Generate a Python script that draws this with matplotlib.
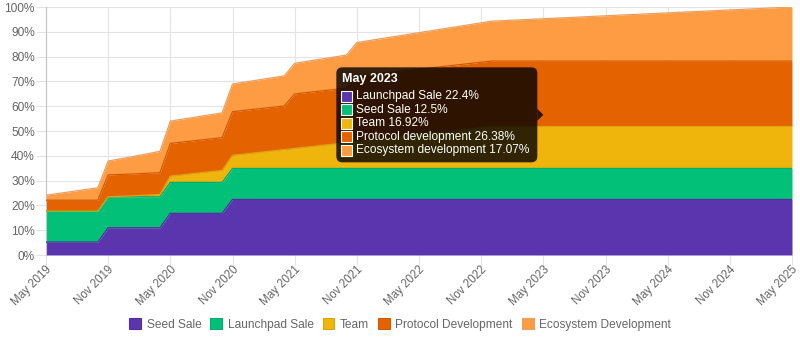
import numpy as np
import matplotlib
matplotlib.use("Agg")
import matplotlib.pyplot as plt
from matplotlib.patches import FancyBboxPatch, Polygon, Rectangle, Patch
from matplotlib.transforms import IdentityTransform, ScaledTranslation

plt.rcParams['font.family'] = ['Liberation Sans', 'DejaVu Sans']

# x-axis labels, one every six months
tick_labels = ["May 2019", "Nov 2019", "May 2020", "Nov 2020", "May 2021", "Nov 2021",
               "May 2022", "Nov 2022", "May 2023", "Nov 2023", "May 2024", "Nov 2024",
               "May 2025"]

series_names = ["Seed Sale", "Launchpad Sale", "Team", "Protocol Development",
                "Ecosystem Development"]
tooltip_names = ["Launchpad Sale", "Seed Sale", "Team", "Protocol development",
                 "Ecosystem development"]
tooltip_month = "May 2023"

colors = ["#5b35ae", "#02c077", "#f0b50c", "#e46200", "#fd9c42"]
edge_colors = ["#5230a0", "#04ad6c", "#dca50c", "#d05a02", "#e8a064"]

# Monthly unlocked share (%), May 2019 .. May 2025
seed_sale = [
    5.2, 5.2, 5.2, 5.2, 5.2, 5.2, 11.0, 11.0, 11.0, 11.0, 11.0, 11.0,
    16.8, 16.8, 16.8, 16.8, 16.8, 16.8, 22.4, 22.4, 22.4, 22.4, 22.4, 22.4,
    22.4, 22.4, 22.4, 22.4, 22.4, 22.4, 22.4, 22.4, 22.4, 22.4, 22.4, 22.4,
    22.4, 22.4, 22.4, 22.4, 22.4, 22.4, 22.4, 22.4, 22.4, 22.4, 22.4, 22.4,
    22.4, 22.4, 22.4, 22.4, 22.4, 22.4, 22.4, 22.4, 22.4, 22.4, 22.4, 22.4,
    22.4, 22.4, 22.4, 22.4, 22.4, 22.4, 22.4, 22.4, 22.4, 22.4, 22.4, 22.4,
    22.4]
launchpad_sale = [
    12.5, 12.5, 12.5, 12.5, 12.5, 12.5, 12.5, 12.5, 12.5, 12.5, 12.5, 12.5,
    12.5, 12.5, 12.5, 12.5, 12.5, 12.5, 12.5, 12.5, 12.5, 12.5, 12.5, 12.5,
    12.5, 12.5, 12.5, 12.5, 12.5, 12.5, 12.5, 12.5, 12.5, 12.5, 12.5, 12.5,
    12.5, 12.5, 12.5, 12.5, 12.5, 12.5, 12.5, 12.5, 12.5, 12.5, 12.5, 12.5,
    12.5, 12.5, 12.5, 12.5, 12.5, 12.5, 12.5, 12.5, 12.5, 12.5, 12.5, 12.5,
    12.5, 12.5, 12.5, 12.5, 12.5, 12.5, 12.5, 12.5, 12.5, 12.5, 12.5, 12.5,
    12.5]
team = [
    0.0, 0.0, 0.0, 0.0, 0.0, 0.0, 0.0, 0.15, 0.3, 0.5, 0.7, 0.9,
    2.50, 2.97, 3.43, 3.90, 4.36, 4.83, 5.29, 5.76, 6.22, 6.69, 7.15, 7.62,
    8.08, 8.55, 9.01, 9.48, 9.94, 10.41, 10.87, 11.34, 11.80, 12.27, 12.73, 13.20,
    13.66, 14.13, 14.59, 15.06, 15.52, 15.99, 16.45, 16.92, 16.92, 16.92, 16.92, 16.92,
    16.92, 16.92, 16.92, 16.92, 16.92, 16.92, 16.92, 16.92, 16.92, 16.92, 16.92, 16.92,
    16.92, 16.92, 16.92, 16.92, 16.92, 16.92, 16.92, 16.92, 16.92, 16.92, 16.92, 16.92,
    16.92]
protocol_dev = [
    4.4, 4.4, 4.4, 4.4, 4.4, 4.4, 8.8, 8.8, 8.8, 8.8, 8.8, 8.8,
    13.19, 13.19, 13.19, 13.19, 13.19, 13.19, 17.59, 17.59, 17.59, 17.59, 17.59, 17.59,
    21.98, 21.98, 21.98, 21.98, 21.98, 21.98, 26.38, 26.38, 26.38, 26.38, 26.38, 26.38,
    26.38, 26.38, 26.38, 26.38, 26.38, 26.38, 26.38, 26.38, 26.38, 26.38, 26.38, 26.38,
    26.38, 26.38, 26.38, 26.38, 26.38, 26.38, 26.38, 26.38, 26.38, 26.38, 26.38, 26.38,
    26.38, 26.38, 26.38, 26.38, 26.38, 26.38, 26.38, 26.38, 26.38, 26.38, 26.38, 26.38,
    26.38]
ecosystem_dev = [
    2.0, 2.6, 3.2, 3.8, 4.4, 5.0, 5.6, 6.2, 6.8, 7.4, 8.0, 8.6,
    9.0, 9.2, 9.4, 9.6, 9.8, 10.0, 11.16, 11.36, 11.55, 11.75, 11.95, 12.15,
    12.34, 12.54, 12.74, 12.93, 13.13, 13.33, 13.52, 13.72, 13.92, 14.12, 14.31, 14.51,
    14.71, 14.90, 15.10, 15.30, 15.49, 15.69, 15.89, 16.09, 16.28, 16.48, 16.68, 16.87,
    17.07, 17.27, 17.46, 17.66, 17.86, 18.06, 18.25, 18.45, 18.65, 18.84, 19.04, 19.24,
    19.43, 19.63, 19.83, 20.03, 20.22, 20.42, 20.62, 20.81, 21.01, 21.21, 21.40, 21.60,
    21.80]

layers = np.array([seed_sale, launchpad_sale, team, protocol_dev, ecosystem_dev])
n = layers.shape[1]
x = np.arange(n)
tops = np.cumsum(layers, axis=0)

W, H = 800, 341
fig = plt.figure(figsize=(W / 100, H / 100), dpi=100)
ax = fig.add_axes([46 / W, 1 - 255 / H, 746 / W, 248 / H])
ax.set_xlim(0, n - 1)
ax.set_ylim(0, 100)

bottom = np.zeros(n)
for i in range(len(layers)):
    ax.fill_between(x, bottom, tops[i], color=colors[i], lw=0, zorder=2)
    ax.plot(x, tops[i], color=edge_colors[i], lw=0.9, zorder=3, solid_joinstyle='round')
    bottom = tops[i]

# grid and axes styling
grid_c = "#e4e4e4"
ax.set_axisbelow(True)
ax.grid(True, color=grid_c, lw=0.8, zorder=0)
for s in ["top", "right", "bottom"]:
    ax.spines[s].set_visible(False)
ax.spines["left"].set_color("#c4c4c4")
ax.spines["left"].set_linewidth(0.8)

ax.set_xticks(np.arange(0, n, 6))
ax.set_xticklabels(tick_labels)
ax.set_yticks(np.arange(0, 101, 10))
ax.set_yticklabels([f"{v}%" for v in range(0, 101, 10)])
ax.tick_params(axis="both", length=7, width=0.8, color=grid_c,
               labelcolor="#666666", labelsize=8.6)
ax.tick_params(axis="y", pad=1.0)
ax.tick_params(axis="x", pad=2.5, labelsize=8.3)
shift = ScaledTranslation(4 / 100, 0, fig.dpi_scale_trans)
for lbl in ax.get_xticklabels():
    lbl.set_rotation(45)
    lbl.set_ha("right")
    lbl.set_va("center")
    lbl.set_rotation_mode("anchor")
    lbl.set_transform(lbl.get_transform() + shift)

# legend
handles = [Patch(facecolor=c, edgecolor=e, lw=0.8) for c, e in zip(colors, edge_colors)]
fig.legend(handles, series_names, loc="center", bbox_to_anchor=(0.5, 1 - 324.5 / H),
           ncol=5, frameon=False, fontsize=8.6, labelcolor="#666666",
           handlelength=1.0, handleheight=1.05, handletextpad=0.45, columnspacing=0.75,
           borderaxespad=0)

# hover tooltip for one month
idx = tick_labels.index(tooltip_month) * 6
px, py = ax.transData.transform((idx, tops[:, idx].mean()))
ident = IdentityTransform()
box_w, box_h, caret = 201, 95, 6
right = px - caret
left = right - box_w
top = py + box_h / 2
tip_bg = (0, 0, 0, 0.8)
fig.add_artist(FancyBboxPatch((left, top - box_h), box_w, box_h,
                              boxstyle="round,pad=0,rounding_size=6",
                              fc=tip_bg, ec="none", transform=ident, zorder=10))
fig.add_artist(Polygon([(right, py - caret), (right + caret, py), (right, py + caret)],
                       closed=True, fc=tip_bg, ec="none", transform=ident, zorder=10))
fig.text(left + 6, top - 6, tooltip_month, color="white", fontsize=9.0,
         fontweight="bold", va="top", ha="left", transform=ident, zorder=11)
row_y = [28.7, 42.2, 55.7, 69.2, 82.7]
for i, name in enumerate(tooltip_names):
    cy = top - row_y[i]
    fig.add_artist(Rectangle((left + 5, cy - 5.5), 11, 11, fc=colors[i], ec="white",
                             lw=0.8, transform=ident, zorder=11))
    fig.text(left + 20, cy, f"{name} {layers[i, idx]:g}%", color="white",
             fontsize=8.6, va="center", ha="left", transform=ident, zorder=11)

fig.savefig("out.png", dpi=100)
